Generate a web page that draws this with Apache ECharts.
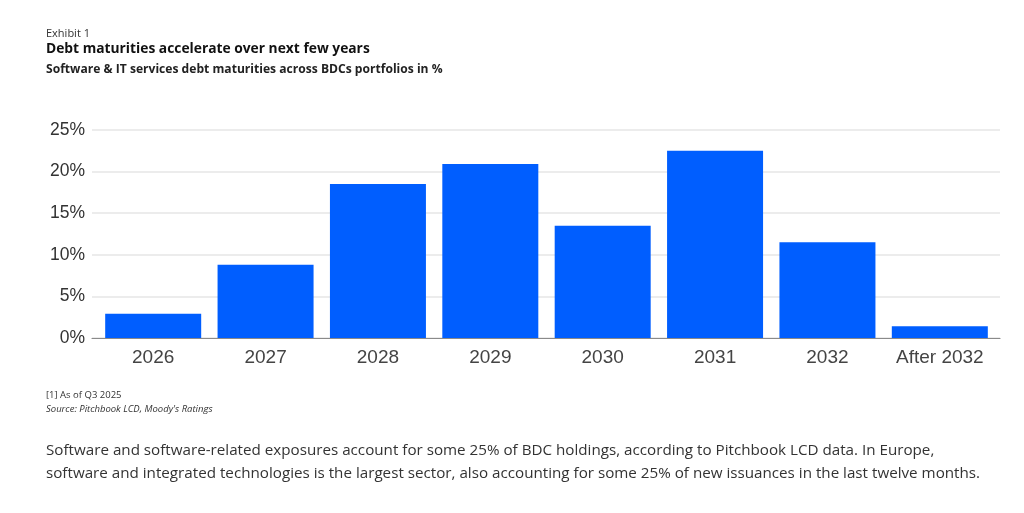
<!DOCTYPE html>
<html>
<head>
<meta charset="utf-8">
<script src="https://cdn.jsdelivr.net/npm/echarts@6/dist/echarts.min.js"></script>
<style>
html,body{margin:0;padding:0;background:#fff;}
#c{width:1024px;height:513px;}
</style>
</head>
<body>
<div id="c"></div>
<script>
const categories = ["2026","2027","2028","2029","2030","2031","2032","After 2032"];
const values = [2.9, 8.8, 18.5, 20.9, 13.5, 22.5, 11.5, 1.4];
const yTicks = [0, 5, 10, 15, 20, 25];

const exhibit = "Exhibit 1";
const title = "Debt maturities accelerate over next few years";
const subtitle = "Software & IT services debt maturities across BDCs portfolios in %";
const note = "[1] As of Q3 2025";
const source = "Source: Pitchbook LCD, Moody's Ratings";
const para1 = "Software and software-related exposures account for some 25% of BDC holdings, according to Pitchbook LCD data. In Europe,";
const para2 = "software and integrated technologies is the largest sector, also accounting for some 25% of new issuances in the last twelve months.";

const chart = echarts.init(document.getElementById('c'));
const yMin = yTicks[0], yMax = yTicks[yTicks.length-1];
chart.setOption({
  animation: false,
  grid: [
    {left: 92, right: 24, top: 130, bottom: 175},
    {left: 97, right: 28, top: 130, bottom: 175}
  ],
  xAxis: [
    {gridIndex: 0, type: 'category', data: categories, axisLine: {lineStyle: {color: '#8a8a8a', width: 1.2}}, axisTick: {show: false}, axisLabel: {show: false}},
    {gridIndex: 1, type: 'category', data: categories, axisLine: {show: false}, axisTick: {show: false},
     axisLabel: {interval: 0, hideOverlap: false, color: '#444', fontSize: 19, fontFamily: 'Liberation Sans, Arial, sans-serif', margin: 10}}
  ],
  yAxis: [
    {gridIndex: 0, type: 'value', min: yMin, max: yMax, interval: 5,
     axisLine: {show: false}, axisTick: {show: false},
     splitLine: {lineStyle: {color: '#e6e6e6', width: 1.5}},
     axisLabel: {formatter: '{value}%', color: '#333', fontSize: 17.5, fontFamily: 'Liberation Sans, Arial, sans-serif', margin: 7}},
    {gridIndex: 1, type: 'value', min: yMin, max: yMax, interval: 5, show: false}
  ],
  series: [{
    type: 'bar', xAxisIndex: 1, yAxisIndex: 1, data: values,
    barWidth: 96,
    itemStyle: {color: '#005eff'}
  }],
  graphic: [
    {type: 'text', left: 46, top: 28, style: {text: exhibit, fontSize: 11, fill: '#333', fontFamily: 'Open Sans, sans-serif'}},
    {type: 'text', left: 46, top: 42, style: {text: title, fontSize: 13.8, fontWeight: 'bold', fill: '#111', fontFamily: 'Open Sans, sans-serif'}},
    {type: 'text', left: 46, top: 64, style: {text: subtitle, fontSize: 12.1, fontWeight: 'bold', fill: '#222', fontFamily: 'Open Sans, sans-serif'}},
    {type: 'text', left: 46, top: 390, style: {text: note, fontSize: 9.5, fill: '#333', fontFamily: 'Open Sans, sans-serif'}},
    {type: 'text', left: 46, top: 404, style: {text: source, fontSize: 9.5, fontStyle: 'italic', fill: '#333', fontFamily: 'Open Sans, sans-serif'}},
    {type: 'text', left: 46, top: 443, style: {text: para1, fontSize: 15.2, fill: '#333', fontFamily: 'Open Sans, sans-serif'}},
    {type: 'text', left: 46, top: 466, style: {text: para2, fontSize: 15.2, fill: '#333', fontFamily: 'Open Sans, sans-serif'}}
  ]
});
</script>
</body>
</html>
